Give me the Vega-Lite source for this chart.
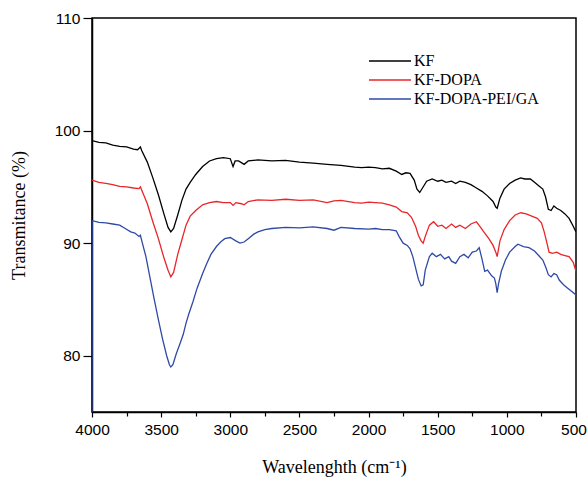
{
  "$schema": "https://vega.github.io/schema/vega-lite/v6.json",
  "width": 484,
  "height": 394,
  "autosize": "none",
  "padding": {"left": 92, "top": 18, "right": 12, "bottom": 69},
  "background": "white",
  "config": {
    "view": {"stroke": "black", "strokeWidth": 1.5},
    "axis": {"domainColor": "black", "domainWidth": 1.5, "tickColor": "black", "tickWidth": 1.2, "labelColor": "black", "titleColor": "black", "labelFont": "Liberation Sans", "labelFontSize": 15.5, "titleFont": "Liberation Serif", "titleFontSize": 18, "titleFontWeight": "normal", "grid": false}
  },
  "data": {
    "values": [
      {"s":"KF","w":4000,"t":99.1},{"s":"KF","w":3950,"t":98.95},{"s":"KF","w":3900,"t":98.9},{"s":"KF","w":3850,"t":98.7},{"s":"KF","w":3800,"t":98.6},{"s":"KF","w":3750,"t":98.55},{"s":"KF","w":3700,"t":98.35},{"s":"KF","w":3670,"t":98.3},{"s":"KF","w":3650,"t":98.55},{"s":"KF","w":3640,"t":98.2},{"s":"KF","w":3600,"t":97.2},{"s":"KF","w":3560,"t":95.8},{"s":"KF","w":3520,"t":94.3},{"s":"KF","w":3480,"t":92.6},{"s":"KF","w":3450,"t":91.4},{"s":"KF","w":3430,"t":91.0},{"s":"KF","w":3410,"t":91.3},{"s":"KF","w":3380,"t":92.5},{"s":"KF","w":3350,"t":93.8},{"s":"KF","w":3320,"t":94.8},{"s":"KF","w":3290,"t":95.4},{"s":"KF","w":3250,"t":96.1},{"s":"KF","w":3200,"t":96.8},{"s":"KF","w":3150,"t":97.3},{"s":"KF","w":3100,"t":97.5},{"s":"KF","w":3050,"t":97.6},{"s":"KF","w":3000,"t":97.5},{"s":"KF","w":2980,"t":96.8},{"s":"KF","w":2965,"t":97.3},{"s":"KF","w":2940,"t":97.3},{"s":"KF","w":2900,"t":97.0},{"s":"KF","w":2870,"t":97.3},{"s":"KF","w":2800,"t":97.4},{"s":"KF","w":2700,"t":97.3},{"s":"KF","w":2600,"t":97.35},{"s":"KF","w":2500,"t":97.2},{"s":"KF","w":2400,"t":97.1},{"s":"KF","w":2300,"t":97.0},{"s":"KF","w":2200,"t":96.9},{"s":"KF","w":2100,"t":96.75},{"s":"KF","w":2050,"t":96.7},{"s":"KF","w":2000,"t":96.75},{"s":"KF","w":1950,"t":96.7},{"s":"KF","w":1900,"t":96.6},{"s":"KF","w":1850,"t":96.65},{"s":"KF","w":1800,"t":96.4},{"s":"KF","w":1760,"t":96.1},{"s":"KF","w":1730,"t":96.25},{"s":"KF","w":1700,"t":96.2},{"s":"KF","w":1670,"t":95.6},{"s":"KF","w":1650,"t":94.8},{"s":"KF","w":1630,"t":94.5},{"s":"KF","w":1610,"t":94.9},{"s":"KF","w":1580,"t":95.5},{"s":"KF","w":1540,"t":95.7},{"s":"KF","w":1500,"t":95.5},{"s":"KF","w":1470,"t":95.6},{"s":"KF","w":1440,"t":95.4},{"s":"KF","w":1400,"t":95.5},{"s":"KF","w":1370,"t":95.3},{"s":"KF","w":1340,"t":95.5},{"s":"KF","w":1300,"t":95.4},{"s":"KF","w":1260,"t":95.2},{"s":"KF","w":1220,"t":94.9},{"s":"KF","w":1180,"t":94.6},{"s":"KF","w":1140,"t":94.2},{"s":"KF","w":1100,"t":93.7},{"s":"KF","w":1080,"t":93.2},{"s":"KF","w":1070,"t":93.1},{"s":"KF","w":1050,"t":94.0},{"s":"KF","w":1020,"t":94.8},{"s":"KF","w":980,"t":95.3},{"s":"KF","w":940,"t":95.6},{"s":"KF","w":900,"t":95.8},{"s":"KF","w":870,"t":95.7},{"s":"KF","w":830,"t":95.7},{"s":"KF","w":800,"t":95.4},{"s":"KF","w":770,"t":95.1},{"s":"KF","w":740,"t":94.8},{"s":"KF","w":720,"t":94.1},{"s":"KF","w":700,"t":93.0},{"s":"KF","w":680,"t":92.9},{"s":"KF","w":660,"t":93.3},{"s":"KF","w":640,"t":93.1},{"s":"KF","w":610,"t":92.9},{"s":"KF","w":580,"t":92.6},{"s":"KF","w":550,"t":92.2},{"s":"KF","w":520,"t":91.5},{"s":"KF","w":500,"t":91.0},
      {"s":"KF-DOPA","w":4000,"t":95.6},{"s":"KF-DOPA","w":3950,"t":95.4},{"s":"KF-DOPA","w":3900,"t":95.3},{"s":"KF-DOPA","w":3850,"t":95.2},{"s":"KF-DOPA","w":3800,"t":95.05},{"s":"KF-DOPA","w":3750,"t":95.0},{"s":"KF-DOPA","w":3700,"t":94.9},{"s":"KF-DOPA","w":3660,"t":94.85},{"s":"KF-DOPA","w":3650,"t":95.0},{"s":"KF-DOPA","w":3640,"t":94.7},{"s":"KF-DOPA","w":3600,"t":93.5},{"s":"KF-DOPA","w":3560,"t":91.9},{"s":"KF-DOPA","w":3520,"t":90.4},{"s":"KF-DOPA","w":3480,"t":88.7},{"s":"KF-DOPA","w":3450,"t":87.6},{"s":"KF-DOPA","w":3430,"t":87.0},{"s":"KF-DOPA","w":3410,"t":87.4},{"s":"KF-DOPA","w":3380,"t":89.0},{"s":"KF-DOPA","w":3350,"t":90.3},{"s":"KF-DOPA","w":3320,"t":91.6},{"s":"KF-DOPA","w":3290,"t":92.4},{"s":"KF-DOPA","w":3250,"t":92.9},{"s":"KF-DOPA","w":3200,"t":93.4},{"s":"KF-DOPA","w":3150,"t":93.6},{"s":"KF-DOPA","w":3100,"t":93.7},{"s":"KF-DOPA","w":3050,"t":93.6},{"s":"KF-DOPA","w":3000,"t":93.6},{"s":"KF-DOPA","w":2980,"t":93.35},{"s":"KF-DOPA","w":2960,"t":93.6},{"s":"KF-DOPA","w":2920,"t":93.5},{"s":"KF-DOPA","w":2900,"t":93.4},{"s":"KF-DOPA","w":2870,"t":93.7},{"s":"KF-DOPA","w":2800,"t":93.85},{"s":"KF-DOPA","w":2700,"t":93.8},{"s":"KF-DOPA","w":2600,"t":93.9},{"s":"KF-DOPA","w":2500,"t":93.8},{"s":"KF-DOPA","w":2400,"t":93.85},{"s":"KF-DOPA","w":2300,"t":93.6},{"s":"KF-DOPA","w":2250,"t":93.75},{"s":"KF-DOPA","w":2200,"t":93.8},{"s":"KF-DOPA","w":2100,"t":93.6},{"s":"KF-DOPA","w":2050,"t":93.55},{"s":"KF-DOPA","w":2000,"t":93.65},{"s":"KF-DOPA","w":1950,"t":93.6},{"s":"KF-DOPA","w":1900,"t":93.55},{"s":"KF-DOPA","w":1850,"t":93.4},{"s":"KF-DOPA","w":1800,"t":93.2},{"s":"KF-DOPA","w":1760,"t":92.8},{"s":"KF-DOPA","w":1720,"t":92.7},{"s":"KF-DOPA","w":1690,"t":92.3},{"s":"KF-DOPA","w":1660,"t":91.5},{"s":"KF-DOPA","w":1640,"t":90.7},{"s":"KF-DOPA","w":1620,"t":90.2},{"s":"KF-DOPA","w":1605,"t":90.0},{"s":"KF-DOPA","w":1590,"t":90.6},{"s":"KF-DOPA","w":1560,"t":91.6},{"s":"KF-DOPA","w":1530,"t":91.9},{"s":"KF-DOPA","w":1500,"t":91.5},{"s":"KF-DOPA","w":1470,"t":91.6},{"s":"KF-DOPA","w":1440,"t":91.3},{"s":"KF-DOPA","w":1400,"t":91.7},{"s":"KF-DOPA","w":1370,"t":91.4},{"s":"KF-DOPA","w":1340,"t":91.6},{"s":"KF-DOPA","w":1300,"t":91.3},{"s":"KF-DOPA","w":1260,"t":91.7},{"s":"KF-DOPA","w":1220,"t":91.9},{"s":"KF-DOPA","w":1190,"t":91.4},{"s":"KF-DOPA","w":1160,"t":90.9},{"s":"KF-DOPA","w":1130,"t":90.4},{"s":"KF-DOPA","w":1100,"t":89.8},{"s":"KF-DOPA","w":1080,"t":89.2},{"s":"KF-DOPA","w":1070,"t":88.8},{"s":"KF-DOPA","w":1050,"t":90.2},{"s":"KF-DOPA","w":1020,"t":91.2},{"s":"KF-DOPA","w":980,"t":92.0},{"s":"KF-DOPA","w":940,"t":92.5},{"s":"KF-DOPA","w":900,"t":92.7},{"s":"KF-DOPA","w":860,"t":92.6},{"s":"KF-DOPA","w":820,"t":92.4},{"s":"KF-DOPA","w":780,"t":92.2},{"s":"KF-DOPA","w":750,"t":91.8},{"s":"KF-DOPA","w":730,"t":91.0},{"s":"KF-DOPA","w":710,"t":90.0},{"s":"KF-DOPA","w":695,"t":89.2},{"s":"KF-DOPA","w":670,"t":89.1},{"s":"KF-DOPA","w":640,"t":89.2},{"s":"KF-DOPA","w":610,"t":89.0},{"s":"KF-DOPA","w":580,"t":88.9},{"s":"KF-DOPA","w":550,"t":88.8},{"s":"KF-DOPA","w":520,"t":88.3},{"s":"KF-DOPA","w":500,"t":87.5},
      {"s":"KF-DOPA-PEI/GA","w":4000,"t":75},{"s":"KF-DOPA-PEI/GA","w":3999,"t":92.0},{"s":"KF-DOPA-PEI/GA","w":3950,"t":91.85},{"s":"KF-DOPA-PEI/GA","w":3900,"t":91.8},{"s":"KF-DOPA-PEI/GA","w":3850,"t":91.7},{"s":"KF-DOPA-PEI/GA","w":3800,"t":91.6},{"s":"KF-DOPA-PEI/GA","w":3760,"t":91.3},{"s":"KF-DOPA-PEI/GA","w":3720,"t":91.0},{"s":"KF-DOPA-PEI/GA","w":3690,"t":90.9},{"s":"KF-DOPA-PEI/GA","w":3660,"t":90.6},{"s":"KF-DOPA-PEI/GA","w":3650,"t":90.7},{"s":"KF-DOPA-PEI/GA","w":3640,"t":90.2},{"s":"KF-DOPA-PEI/GA","w":3610,"t":88.8},{"s":"KF-DOPA-PEI/GA","w":3580,"t":86.9},{"s":"KF-DOPA-PEI/GA","w":3550,"t":85.0},{"s":"KF-DOPA-PEI/GA","w":3520,"t":83.2},{"s":"KF-DOPA-PEI/GA","w":3490,"t":81.5},{"s":"KF-DOPA-PEI/GA","w":3460,"t":80.0},{"s":"KF-DOPA-PEI/GA","w":3440,"t":79.2},{"s":"KF-DOPA-PEI/GA","w":3430,"t":79.0},{"s":"KF-DOPA-PEI/GA","w":3415,"t":79.2},{"s":"KF-DOPA-PEI/GA","w":3390,"t":80.2},{"s":"KF-DOPA-PEI/GA","w":3360,"t":81.2},{"s":"KF-DOPA-PEI/GA","w":3340,"t":81.9},{"s":"KF-DOPA-PEI/GA","w":3320,"t":82.9},{"s":"KF-DOPA-PEI/GA","w":3300,"t":83.7},{"s":"KF-DOPA-PEI/GA","w":3270,"t":84.8},{"s":"KF-DOPA-PEI/GA","w":3240,"t":86.0},{"s":"KF-DOPA-PEI/GA","w":3200,"t":87.3},{"s":"KF-DOPA-PEI/GA","w":3170,"t":88.2},{"s":"KF-DOPA-PEI/GA","w":3140,"t":89.0},{"s":"KF-DOPA-PEI/GA","w":3100,"t":89.7},{"s":"KF-DOPA-PEI/GA","w":3070,"t":90.1},{"s":"KF-DOPA-PEI/GA","w":3040,"t":90.4},{"s":"KF-DOPA-PEI/GA","w":3000,"t":90.5},{"s":"KF-DOPA-PEI/GA","w":2960,"t":90.2},{"s":"KF-DOPA-PEI/GA","w":2930,"t":90.0},{"s":"KF-DOPA-PEI/GA","w":2900,"t":90.1},{"s":"KF-DOPA-PEI/GA","w":2870,"t":90.4},{"s":"KF-DOPA-PEI/GA","w":2830,"t":90.8},{"s":"KF-DOPA-PEI/GA","w":2800,"t":91.0},{"s":"KF-DOPA-PEI/GA","w":2750,"t":91.2},{"s":"KF-DOPA-PEI/GA","w":2700,"t":91.3},{"s":"KF-DOPA-PEI/GA","w":2600,"t":91.4},{"s":"KF-DOPA-PEI/GA","w":2500,"t":91.35},{"s":"KF-DOPA-PEI/GA","w":2400,"t":91.45},{"s":"KF-DOPA-PEI/GA","w":2300,"t":91.3},{"s":"KF-DOPA-PEI/GA","w":2250,"t":91.15},{"s":"KF-DOPA-PEI/GA","w":2200,"t":91.4},{"s":"KF-DOPA-PEI/GA","w":2100,"t":91.3},{"s":"KF-DOPA-PEI/GA","w":2000,"t":91.25},{"s":"KF-DOPA-PEI/GA","w":1950,"t":91.3},{"s":"KF-DOPA-PEI/GA","w":1900,"t":91.2},{"s":"KF-DOPA-PEI/GA","w":1850,"t":91.2},{"s":"KF-DOPA-PEI/GA","w":1800,"t":91.1},{"s":"KF-DOPA-PEI/GA","w":1780,"t":90.6},{"s":"KF-DOPA-PEI/GA","w":1750,"t":90.0},{"s":"KF-DOPA-PEI/GA","w":1720,"t":89.8},{"s":"KF-DOPA-PEI/GA","w":1700,"t":89.5},{"s":"KF-DOPA-PEI/GA","w":1680,"t":88.8},{"s":"KF-DOPA-PEI/GA","w":1660,"t":87.8},{"s":"KF-DOPA-PEI/GA","w":1640,"t":86.8},{"s":"KF-DOPA-PEI/GA","w":1620,"t":86.2},{"s":"KF-DOPA-PEI/GA","w":1605,"t":86.3},{"s":"KF-DOPA-PEI/GA","w":1590,"t":87.6},{"s":"KF-DOPA-PEI/GA","w":1560,"t":88.8},{"s":"KF-DOPA-PEI/GA","w":1540,"t":89.1},{"s":"KF-DOPA-PEI/GA","w":1510,"t":88.8},{"s":"KF-DOPA-PEI/GA","w":1480,"t":89.0},{"s":"KF-DOPA-PEI/GA","w":1450,"t":88.6},{"s":"KF-DOPA-PEI/GA","w":1420,"t":88.8},{"s":"KF-DOPA-PEI/GA","w":1400,"t":88.4},{"s":"KF-DOPA-PEI/GA","w":1370,"t":88.2},{"s":"KF-DOPA-PEI/GA","w":1340,"t":88.8},{"s":"KF-DOPA-PEI/GA","w":1310,"t":89.0},{"s":"KF-DOPA-PEI/GA","w":1280,"t":88.7},{"s":"KF-DOPA-PEI/GA","w":1250,"t":89.2},{"s":"KF-DOPA-PEI/GA","w":1220,"t":89.3},{"s":"KF-DOPA-PEI/GA","w":1200,"t":89.6},{"s":"KF-DOPA-PEI/GA","w":1180,"t":88.6},{"s":"KF-DOPA-PEI/GA","w":1160,"t":87.5},{"s":"KF-DOPA-PEI/GA","w":1140,"t":87.6},{"s":"KF-DOPA-PEI/GA","w":1110,"t":87.1},{"s":"KF-DOPA-PEI/GA","w":1090,"t":86.9},{"s":"KF-DOPA-PEI/GA","w":1080,"t":86.4},{"s":"KF-DOPA-PEI/GA","w":1070,"t":85.6},{"s":"KF-DOPA-PEI/GA","w":1060,"t":86.4},{"s":"KF-DOPA-PEI/GA","w":1040,"t":87.5},{"s":"KF-DOPA-PEI/GA","w":1010,"t":88.5},{"s":"KF-DOPA-PEI/GA","w":980,"t":89.2},{"s":"KF-DOPA-PEI/GA","w":940,"t":89.7},{"s":"KF-DOPA-PEI/GA","w":920,"t":89.9},{"s":"KF-DOPA-PEI/GA","w":880,"t":89.7},{"s":"KF-DOPA-PEI/GA","w":840,"t":89.6},{"s":"KF-DOPA-PEI/GA","w":800,"t":89.3},{"s":"KF-DOPA-PEI/GA","w":770,"t":88.9},{"s":"KF-DOPA-PEI/GA","w":740,"t":88.5},{"s":"KF-DOPA-PEI/GA","w":720,"t":87.9},{"s":"KF-DOPA-PEI/GA","w":700,"t":87.2},{"s":"KF-DOPA-PEI/GA","w":680,"t":87.0},{"s":"KF-DOPA-PEI/GA","w":660,"t":87.3},{"s":"KF-DOPA-PEI/GA","w":640,"t":87.2},{"s":"KF-DOPA-PEI/GA","w":620,"t":86.7},{"s":"KF-DOPA-PEI/GA","w":590,"t":86.3},{"s":"KF-DOPA-PEI/GA","w":560,"t":86.0},{"s":"KF-DOPA-PEI/GA","w":530,"t":85.7},{"s":"KF-DOPA-PEI/GA","w":500,"t":85.4}
    ]
  },
  "mark": {"type": "line", "strokeWidth": 1.3, "clip": true},
  "encoding": {
    "x": {
      "field": "w", "type": "quantitative",
      "scale": {"domain": [500, 4000], "reverse": true, "nice": false, "zero": false},
      "axis": {
        "title": "Wavelenghth (cm⁻¹)",
        "values": [500, 750, 1000, 1250, 1500, 1750, 2000, 2250, 2500, 2750, 3000, 3250, 3500, 3750, 4000],
        "labelExpr": "datum.value % 500 === 0 ? datum.label : ''",
        "format": "d",
        "tickSize": {"condition": {"test": "datum.value % 500 === 0", "value": 5}, "value": 4},
        "labelOffset": {"condition": {"test": "datum.value === 500", "value": -2.5}, "value": 0},
        "labelPadding": 5,
        "titlePadding": 21,
        "labelFlush": false
      }
    },
    "y": {
      "field": "t", "type": "quantitative",
      "scale": {"domain": [75, 110], "nice": false, "zero": false},
      "axis": {
        "title": "Transmitance (%)",
        "values": [80, 90, 100, 110],
        "tickSize": 9,
        "labelPadding": 3,
        "titlePadding": 26,
        "labelFlush": false
      }
    },
    "color": {
      "field": "s", "type": "nominal",
      "scale": {"domain": ["KF", "KF-DOPA", "KF-DOPA-PEI/GA"], "range": ["#000000", "#e8262a", "#2f4aa6"]},
      "legend": {
        "title": null,
        "orient": "none",
        "legendX": 287,
        "legendY": 32,
        "padding": 0,
        "symbolType": "M-2.1,0H2.1",
        "symbolSize": 400,
        "symbolStrokeWidth": 1.5,
        "labelOffset": 13,
        "labelFont": "Liberation Serif",
        "labelFontSize": 16,
        "labelColor": "black",
        "rowPadding": 0
      }
    }
  }
}
